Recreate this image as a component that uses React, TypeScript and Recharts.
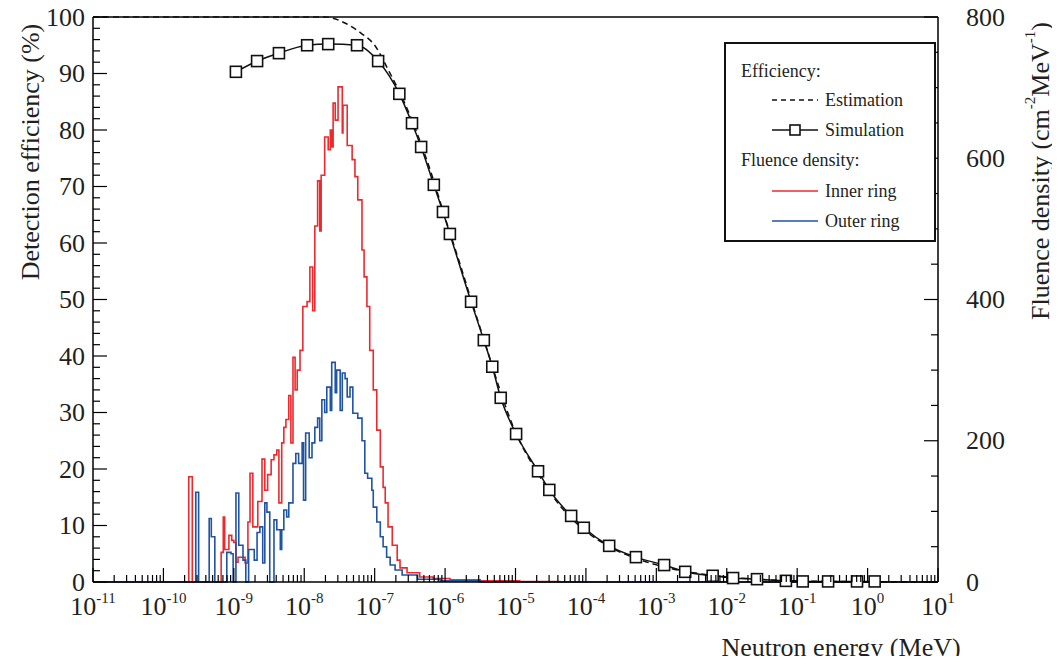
import React from 'react';
import { ComposedChart, Line, XAxis, YAxis, ReferenceLine } from 'recharts';

const FONT = '"Liberation Serif", "Times New Roman", Times, serif';
const RED = '#ec2a2e';
const BLUE = '#1f53a3';

// ---- Efficiency: simulation (MeV, %) ----
const simEnergy = [
  1.07e-9, 2.14e-9, 4.37e-9, 1.10e-8, 2.19e-8, 5.62e-8, 1.12e-7, 2.24e-7, 3.39e-7, 4.57e-7,
  6.92e-7, 9.33e-7, 1.17e-6, 2.34e-6, 3.55e-6, 4.68e-6, 6.17e-6, 1.02e-5, 2.09e-5, 3.02e-5,
  6.17e-5, 9.33e-5, 2.14e-4, 5.13e-4, 1.29e-3, 2.57e-3, 6.31e-3, 1.23e-2, 2.69e-2, 6.92e-2,
  1.20e-1, 2.75e-1, 7.08e-1, 1.26,
];
const simEfficiency = [
  90.3, 92.2, 93.6, 95.0, 95.2, 95.0, 92.2, 86.4, 81.2, 77.0,
  70.3, 65.5, 61.6, 49.6, 42.8, 38.1, 32.6, 26.2, 19.6, 16.3,
  11.7, 9.6, 6.4, 4.4, 3.0, 1.8, 1.1, 0.7, 0.5, 0.2,
  0.1, 0.1, 0.1, 0.1,
];

// ---- Efficiency: estimation (MeV, %) ----
const estEnergy = [
  1e-11, 1e-9, 1e-8, 2.0e-8, 2.5e-8, 3.98e-8, 6.31e-8, 1e-7, 1.58e-7, 2.51e-7,
  3.98e-7, 6.31e-7, 1e-6, 1.58e-6, 2.51e-6, 3.98e-6, 6.31e-6, 1e-5, 1.58e-5, 2.51e-5,
  3.98e-5, 6.31e-5, 1e-4, 2.51e-4, 6.31e-4, 1.58e-3, 3.98e-3, 1e-2, 3.16e-2, 1e-1, 1, 10,
];
const estEfficiency = [
  100, 100, 100, 100, 99.8, 98.8, 97.2, 95.0, 90.5, 85.5,
  79.5, 72.5, 64.5, 56.8, 48.8, 41.0, 33.2, 26.5, 21.7, 17.6,
  14.0, 11.2, 9.0, 5.8, 3.8, 2.4, 1.5, 0.9, 0.45, 0.2, 0.05, 0.02,
];

// ---- Fluence density, inner ring: bin left edges (log10 MeV) and values (cm^-2 MeV^-1) ----
const innerLogE = [
  -11, -9.64, -9.59, -9.18, -9.15, -9.13, -9.07, -9.03, -9.0, -8.97,
  -8.94, -8.84, -8.80, -8.77, -8.73, -8.66, -8.60, -8.56, -8.52, -8.47,
  -8.43, -8.39, -8.36, -8.32, -8.29, -8.26, -8.22, -8.19, -8.16, -8.13,
  -8.10, -8.06, -8.02, -7.96, -7.92, -7.88, -7.85, -7.81, -7.78, -7.76,
  -7.71, -7.66, -7.63, -7.61, -7.59, -7.56, -7.52, -7.46, -7.45, -7.39,
  -7.32, -7.28, -7.24, -7.18, -7.15, -7.11, -7.07, -7.02, -6.97, -6.92,
  -6.88, -6.85, -6.81, -6.75, -6.68, -6.64, -6.54, -6.36, -6.17, -5.93,
  -5.50, -4.94, -4.37, 1,
];
const innerFluence = [
  0, 149, 0, 42, 92, 46, 66, 59, 56, 28,
  35, 27, 85, 154, 78, 114, 174, 130, 152, 173,
  180, 187, 112, 197, 219, 230, 264, 197, 318, 272,
  300, 328, 390, 397, 446, 384, 504, 568, 497, 576,
  630, 612, 640, 616, 678, 654, 701, 636, 675, 618,
  598, 574, 541, 470, 432, 390, 328, 272, 215, 163,
  134, 112, 78, 52, 31, 20, 13, 7, 5, 3,
  1.6, 0.8, 0, 0,
];

// ---- Fluence density, outer ring ----
const outerLogE = [
  -11, -9.54, -9.50, -9.35, -9.32, -9.27, -9.10, -9.04, -9.01, -8.97,
  -8.93, -8.87, -8.83, -8.79, -8.71, -8.67, -8.63, -8.59, -8.56, -8.53,
  -8.49, -8.43, -8.39, -8.34, -8.32, -8.29, -8.25, -8.22, -8.16, -8.12,
  -8.08, -8.03, -8.01, -7.98, -7.93, -7.89, -7.85, -7.81, -7.78, -7.75,
  -7.71, -7.68, -7.63, -7.61, -7.56, -7.54, -7.49, -7.46, -7.42, -7.39,
  -7.35, -7.31, -7.24, -7.18, -7.14, -7.10, -7.04, -7.02, -6.97, -6.92,
  -6.88, -6.83, -6.78, -6.71, -6.61, -6.39, -6.07, -5.50, 1,
];
const outerFluence = [
  0, 127, 0, 90, 64, 0, 42, 40, 0, 126,
  52, 31, 0, 46, 31, 70, 78, 27, 112, 99,
  0, 88, 74, 46, 74, 102, 92, 112, 168, 182,
  168, 197, 116, 211, 176, 197, 219, 232, 200, 258,
  240, 276, 243, 311, 268, 300, 243, 296, 288, 262,
  276, 239, 232, 200, 154, 147, 130, 106, 85, 64,
  50, 35, 24, 17, 10, 4, 1.6, 0, 0,
];

const leftTicks = [0, 2, 4, 6, 8, 10, 12, 14, 16, 18, 20, 22, 24, 26, 28, 30, 32, 34, 36, 38, 40, 42, 44, 46, 48, 50, 52, 54, 56, 58, 60, 62, 64, 66, 68, 70, 72, 74, 76, 78, 80, 82, 84, 86, 88, 90, 92, 94, 96, 98, 100];
const rightTicks = [0, 50, 100, 150, 200, 250, 300, 350, 400, 450, 500, 550, 600, 650, 700, 750, 800];
const decadeExponents = [-11, -10, -9, -8, -7, -6, -5, -4, -3, -2, -1, 0, 1];
const minorMultipliers = [2, 3, 4, 5, 6, 7, 8, 9];

const xTicks: number[] = [];
decadeExponents.forEach((e) => {
  xTicks.push(Math.pow(10, e));
  if (e < 1) minorMultipliers.forEach((m) => xTicks.push(m * Math.pow(10, e)));
});

const simData = simEnergy.map((x, i) => ({ x, eff: simEfficiency[i] }));
const estData = estEnergy.map((x, i) => ({ x, eff: estEfficiency[i] }));
const innerData = innerLogE.map((l, i) => ({ x: Math.pow(10, l), flu: innerFluence[i] }));
const outerData = outerLogE.map((l, i) => ({ x: Math.pow(10, l), flu: outerFluence[i] }));

const TXT = '#231f20';

const XTick = (props: any) => {
  const { x, y, payload } = props;
  const v = payload.value as number;
  const lg = Math.log10(v);
  const major = Math.abs(lg - Math.round(lg)) < 1e-6;
  return (
    <g>
      <line x1={x} x2={x} y1={y} y2={y - (major ? 14 : 7)} stroke="#000" strokeWidth={1.2} />
      {major && (
        <text x={x} y={y + 33} textAnchor="middle" fontFamily={FONT} fontSize={26} fill={TXT}>
          10
          <tspan dy={-12} fontSize={15}>{String(Math.round(lg))}</tspan>
        </text>
      )}
    </g>
  );
};

const LeftTick = (props: any) => {
  const { x, y, payload } = props;
  const v = payload.value as number;
  const major = v % 10 === 0;
  return (
    <g>
      <line x1={x} x2={x + (major ? 14 : 7)} y1={y} y2={y} stroke="#000" strokeWidth={1.2} />
      {major && (
        <text x={x - 8} y={y} textAnchor="end" dominantBaseline="central" fontFamily={FONT} fontSize={26} fill={TXT}>
          {v}
        </text>
      )}
    </g>
  );
};

const RightTick = (props: any) => {
  const { x, y, payload } = props;
  const v = payload.value as number;
  const major = v % 200 === 0;
  return (
    <g>
      <line x1={x} x2={x - (major ? 14 : 7)} y1={y} y2={y} stroke="#000" strokeWidth={1.2} />
      {major && (
        <text x={x + 28} y={y} textAnchor="start" dominantBaseline="central" fontFamily={FONT} fontSize={26} fill={TXT}>
          {v}
        </text>
      )}
    </g>
  );
};

const SquareDot = (props: any) => {
  const { cx, cy, index } = props;
  if (cx == null || cy == null) return <g key={`d${index}`} />;
  return (
    <rect key={`d${index}`} x={cx - 5.5} y={cy - 5.5} width={11} height={11} fill="#fff" stroke="#111" strokeWidth={1.6} />
  );
};

const LeftLabel = () => (
  <text
    x={22}
    y={152}
    transform="rotate(-90, 22, 152)"
    textAnchor="middle"
    dominantBaseline="central"
    fontFamily={FONT}
    fontSize={26}
    fill={TXT}
  >
    Detection efficiency (%)
  </text>
);

const RightLabel = () => (
  <text
    x={1032}
    y={171}
    transform="rotate(-90, 1032, 171)"
    textAnchor="middle"
    dominantBaseline="central"
    fontFamily={FONT}
    fontSize={26}
    fill={TXT}
  >
    Fluence density (cm
    <tspan dy={-10} fontSize={15}>-2</tspan>
    <tspan dy={10}>MeV</tspan>
    <tspan dy={-10} fontSize={15}>-1</tspan>
    <tspan dy={10}>)</tspan>
  </text>
);

const BottomLabel = () => (
  <text x={833} y={656} textAnchor="middle" fontFamily={FONT} fontSize={26} fill={TXT}>
    Neutron energy (MeV)
  </text>
);

const LegendBox = () => (
  <div
    style={{
      position: 'absolute',
      left: 716,
      top: 34,
      width: 212,
      height: 200,
      border: '2px solid #111',
      boxSizing: 'border-box',
      background: '#fff',
    }}
  >
    <svg width={208} height={196} style={{ display: 'block' }}>
      <g fontFamily={FONT} fontSize={18} fill={TXT}>
        <text x={15} y={27} dominantBaseline="central">Efficiency:</text>
        <line x1={46} x2={92} y1={56} y2={56} stroke="#111" strokeWidth={1.5} strokeDasharray="5 4" />
        <text x={99} y={56} dominantBaseline="central">Estimation</text>
        <line x1={46} x2={92} y1={86} y2={86} stroke="#111" strokeWidth={1.5} />
        <rect x={64} y={81} width={10} height={10} fill="#fff" stroke="#111" strokeWidth={1.6} />
        <text x={99} y={86} dominantBaseline="central">Simulation</text>
        <text x={15} y={116} dominantBaseline="central">Fluence density:</text>
        <line x1={46} x2={92} y1={147} y2={147} stroke={RED} strokeWidth={1.5} />
        <text x={99} y={147} dominantBaseline="central">Inner ring</text>
        <line x1={46} x2={92} y1={177} y2={177} stroke={BLUE} strokeWidth={1.5} />
        <text x={99} y={177} dominantBaseline="central">Outer ring</text>
      </g>
    </svg>
  </div>
);

export default function App() {
  return (
    <div style={{ position: 'relative', width: 1044, height: 648 }}>
      <div style={{ position: 'absolute', left: 0, top: -8, width: 1052, height: 664 }}>
        <ComposedChart width={1052} height={664} margin={{ top: 17, right: 62, bottom: 22, left: 25 }}>
          <XAxis
            dataKey="x"
            type="number"
            scale="log"
            domain={[1e-11, 10]}
            ticks={xTicks}
            interval={0}
            tick={<XTick />}
            tickSize={0}
            tickMargin={0}
            tickLine={false}
            height={60}
            axisLine={{ stroke: '#000', strokeWidth: 1.5 }}
            label={<BottomLabel />}
          />
          <YAxis
            yAxisId="left"
            type="number"
            domain={[0, 100]}
            ticks={leftTicks}
            interval={0}
            tick={<LeftTick />}
            tickSize={0}
            tickMargin={0}
            tickLine={false}
            width={60}
            axisLine={{ stroke: '#000', strokeWidth: 1.5 }}
            label={<LeftLabel />}
          />
          <YAxis
            yAxisId="right"
            orientation="right"
            type="number"
            domain={[0, 800]}
            ticks={rightTicks}
            interval={0}
            tick={<RightTick />}
            tickSize={0}
            tickMargin={0}
            tickLine={false}
            width={60}
            axisLine={{ stroke: '#000', strokeWidth: 1.5 }}
            label={<RightLabel />}
          />
          <ReferenceLine yAxisId="left" y={100} stroke="#000" strokeWidth={1.5} />
          <Line
            yAxisId="right"
            data={innerData}
            dataKey="flu"
            type="stepAfter"
            stroke={RED}
            strokeWidth={1.6}
            dot={false}
            activeDot={false}
            isAnimationActive={false}
          />
          <Line
            yAxisId="right"
            data={outerData}
            dataKey="flu"
            type="stepAfter"
            stroke={BLUE}
            strokeWidth={1.6}
            dot={false}
            activeDot={false}
            isAnimationActive={false}
          />
          <Line
            yAxisId="left"
            data={estData}
            dataKey="eff"
            type="monotone"
            stroke="#111"
            strokeWidth={1.5}
            strokeDasharray="6 4"
            dot={false}
            activeDot={false}
            isAnimationActive={false}
          />
          <Line
            yAxisId="left"
            data={simData}
            dataKey="eff"
            type="monotone"
            stroke="#111"
            strokeWidth={1.5}
            dot={<SquareDot />}
            activeDot={false}
            isAnimationActive={false}
          />
        </ComposedChart>
      </div>
      <LegendBox />
    </div>
  );
}
